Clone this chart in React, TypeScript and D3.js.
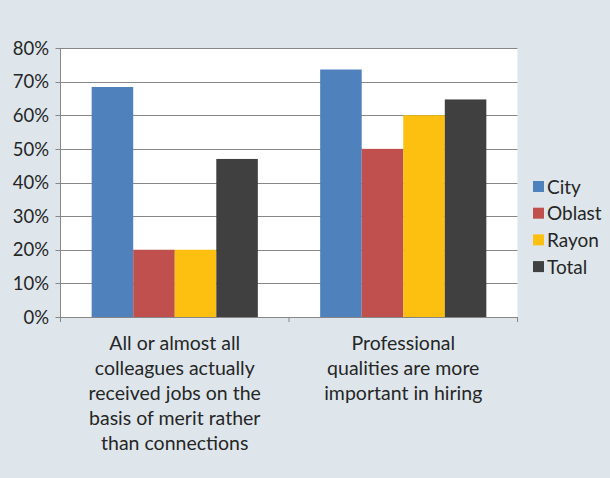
import React from "react";
import * as d3 from "d3";

const categories = [
  ["All or almost all", "colleagues actually", "received jobs on the", "basis of merit rather", "than connections"],
  ["Professional", "qualities are more", "important in hiring"],
];
const series = ["City", "Oblast", "Rayon", "Total"];
const colors = ["#4f81bd", "#c0504d", "#fdc010", "#404040"];
const values = [
  [0.684, 0.2, 0.2, 0.47],
  [0.736, 0.5, 0.6, 0.647],
];
const yTicks = [0, 0.1, 0.2, 0.3, 0.4, 0.5, 0.6, 0.7, 0.8];

const W = 610, H = 478;
const left = 60.5, right = 517.5, top = 48, bottom = 317;
const FONT = "Lato, 'Liberation Sans', sans-serif";
const TXT = "#262626";
const GRID = "#878787";

export default function App() {
  const y = d3.scaleLinear().domain([0, 0.8]).range([bottom, top]);
  const x0 = d3.scaleBand<number>().domain(categories.map((_, i) => i)).range([left, right]).padding(0);
  const x1 = d3.scaleBand<string>().domain(series).range([0, x0.bandwidth()]).paddingInner(0).paddingOuter(0.75);
  const fmt = d3.format(".0%");
  return (
    <svg width={W} height={H} style={{ position: "fixed", left: 0, top: 0 }} fontFamily={FONT}>
      <rect x={0} y={0} width={W} height={H} fill="#dee6ec" />
      <rect x={left} y={top} width={right - left} height={bottom - top} fill="#ffffff" />
      {yTicks.map((t) => (
        <g key={t}>
          <line x1={left - 5} x2={right} y1={Math.round(y(t)) + 0.5} y2={Math.round(y(t)) + 0.5} stroke={GRID} strokeWidth={1} />
          <text x={49} y={y(t)} dy="0.36em" textAnchor="end" fontSize={18.5} fill={TXT}>{fmt(t)}</text>
        </g>
      ))}
      {values.map((row, ci) =>
        row.map((v, si) => (
          <rect key={ci + "-" + si} x={(x0(ci) as number) + (x1(series[si]) as number)} y={y(v)} width={x1.bandwidth()} height={bottom - y(v)} fill={colors[si]} />
        ))
      )}
      <line x1={left} x2={left} y1={top} y2={bottom} stroke={GRID} />
      <line x1={left} x2={right} y1={bottom + 0.5} y2={bottom + 0.5} stroke={GRID} />
      {[left, left + x0.step(), right].map((xx, i) => (
        <line key={i} x1={xx} x2={xx} y1={bottom} y2={bottom + 5} stroke={GRID} />
      ))}
      {categories.map((lines, ci) => (
        <text key={ci} x={(x0(ci) as number) + x0.bandwidth() / 2} y={350} textAnchor="middle" fontSize={19.5} fill={TXT}>
          {lines.map((l, li) => (
            <tspan key={li} x={(x0(ci) as number) + x0.bandwidth() / 2} y={350 + li * 25}>{l}</tspan>
          ))}
        </text>
      ))}
      {series.map((s, i) => (
        <g key={s}>
          <rect x={533} y={181 + i * 26.7} width={11} height={11} fill={colors[i]} />
          <text x={547} y={186.7 + i * 26.7} dy="0.36em" fontSize={19} fill={TXT}>{s}</text>
        </g>
      ))}
    </svg>
  );
}
